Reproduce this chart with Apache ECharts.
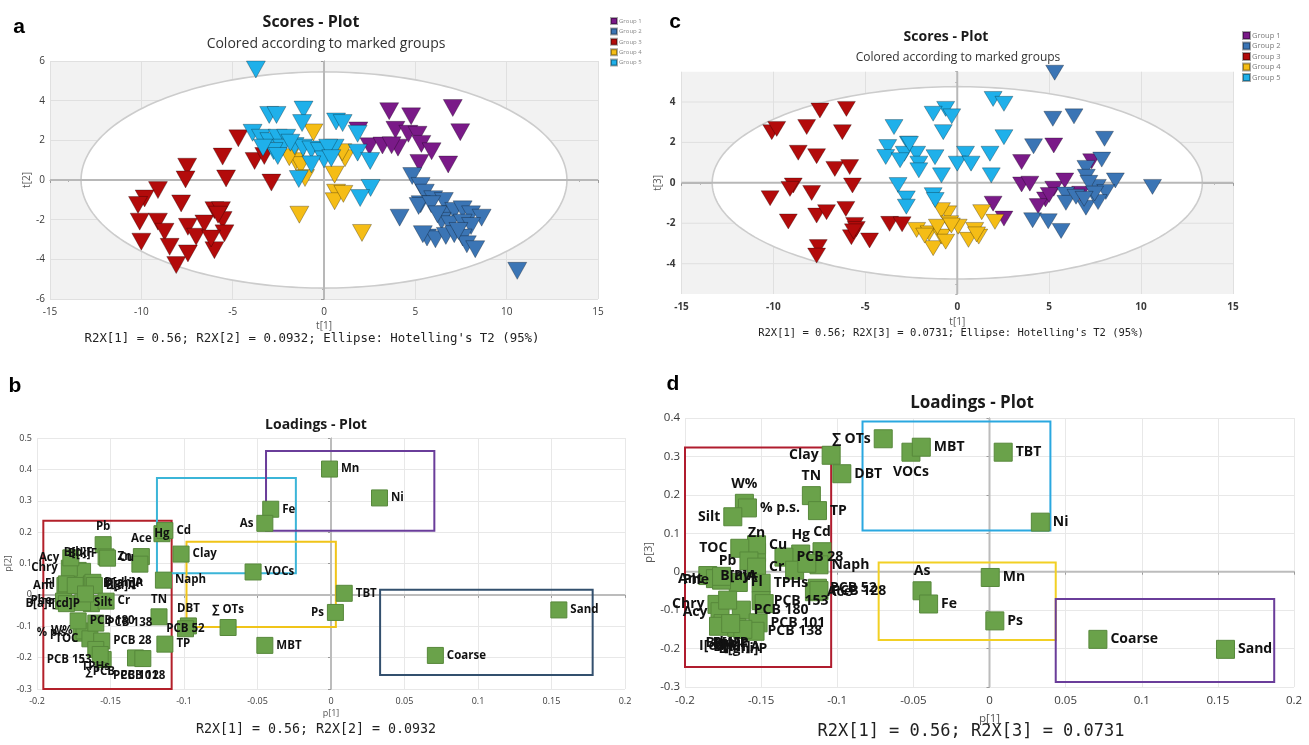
<!DOCTYPE html>
<html>
<head>
<meta charset="utf-8">
<script src="https://cdn.jsdelivr.net/npm/echarts/dist/echarts.min.js"></script>
<style>
html,body{margin:0;padding:0;background:#fff;}
#chart{width:1309px;height:745px;}
</style>
</head>
<body>
<div id="chart"></div>
<script>
// ---------------- DATA ----------------
const groupNames = ['Group 1','Group 2','Group 3','Group 4','Group 5'];

// Panel a : scores t[1] vs t[2]
const aGroup1 = [[3.57,3.47],[4.77,3.21],[7.05,3.63],[7.46,2.41],[1.88,2.50],[2.49,1.70],[3.20,1.74],[3.91,2.53],[4.05,1.63],[4.62,2.33],[5.12,2.28],[5.33,1.82],[5.89,1.45],[5.22,0.86],[6.80,0.78],[3.70,1.75]];
const aGroup2 = [[4.83,0.20],[5.29,-0.30],[5.52,-0.64],[5.98,-0.97],[6.56,-1.06],[5.29,-1.22],[4.14,-1.90],[5.18,-1.31],[5.87,-1.22],[6.67,-1.73],[7.13,-1.56],[7.59,-1.48],[8.05,-1.73],[8.63,-1.90],[6.44,-2.06],[6.90,-2.23],[7.59,-2.15],[8.05,-2.32],[5.64,-2.90],[6.10,-2.99],[6.67,-2.82],[7.13,-2.73],[7.59,-2.90],[7.82,-3.24],[8.28,-3.49],[5.41,-2.73],[7.36,-2.57],[10.58,-4.58],[6.21,-1.73]];
const aGroup3 = [[-4.69,2.10],[-5.55,1.18],[-5.36,0.08],[-7.49,0.67],[-7.58,0.03],[-9.09,-0.51],[-9.82,-0.93],[-10.18,-1.26],[-7.82,-1.18],[-10.09,-2.10],[-9.09,-2.10],[-8.73,-2.61],[-10.0,-3.11],[-8.45,-3.37],[-8.09,-4.29],[-7.45,-3.70],[-7.45,-2.36],[-7.0,-2.86],[-6.55,-2.19],[-6.0,-1.52],[-5.64,-1.52],[-5.55,-2.02],[-5.45,-2.69],[-6.0,-3.54],[-6.18,-2.95],[-3.80,0.96],[-3.27,1.21],[-2.88,-0.13],[-5.80,-1.75]];
const aGroup4 = [[-0.58,2.40],[-1.55,0.95],[-1.27,0.75],[-1.04,0.10],[-1.35,-1.75],[0.58,0.27],[0.66,-0.64],[0.58,-1.07],[1.06,-0.70],[1.15,1.10],[1.0,1.40],[2.08,-2.67],[-1.9,1.15]];
const aGroup5 = [[-3.73,5.57],[-3.0,3.28],[-2.6,3.28],[-1.12,3.55],[-1.2,2.87],[0.66,2.95],[1.02,2.87],[1.84,2.33],[-3.91,2.38],[-3.45,2.13],[-2.99,1.96],[-2.53,2.13],[-2.07,2.13],[-2.30,1.63],[-2.76,1.46],[-2.53,1.21],[-1.61,1.71],[-1.15,1.63],[-0.69,1.54],[-0.23,1.46],[0.58,1.63],[0.0,1.04],[-0.69,0.79],[1.84,1.38],[2.53,0.96],[-1.38,0.05],[2.55,-0.40],[1.98,-0.91],[-1.84,1.88],[-3.34,1.63],[0.23,1.63],[0.4,1.1]];
const aEllipse = [13.3, 5.45];   // Hotelling's T2 (95%) semi-axes

// Panel c : scores t[1] vs t[3]
const cGroup1 = [[3.50,1.03],[5.25,1.85],[3.50,-0.08],[3.95,-0.04],[5.25,-0.29],[5.85,0.12],[6.71,-0.54],[7.31,1.07],[4.80,-0.82],[4.40,-1.15],[1.95,-1.03],[2.54,-1.77],[5.0,-0.6]];
const cGroup2 = [[5.3,5.45],[5.20,3.17],[6.35,3.29],[8.01,2.18],[4.15,1.81],[7.86,1.15],[7.0,0.74],[7.02,0.30],[8.60,0.12],[7.62,-0.2],[7.16,0.0],[10.62,-0.20],[8.08,-0.45],[5.9,-0.58],[5.91,-0.99],[7.0,-1.23],[7.66,-0.95],[4.10,-1.85],[4.95,-1.90],[5.65,-2.38],[7.47,-0.53],[6.46,-0.69],[6.9,-0.79]];
const cGroup3 = [[-10.09,2.51],[-9.82,2.67],[-7.47,3.58],[-6.03,3.66],[-8.19,2.76],[-6.25,2.51],[-8.65,1.49],[-7.65,1.32],[-6.66,0.69],[-5.85,0.78],[-8.92,-0.13],[-9.1,-0.30],[-10.18,-0.76],[-7.92,-0.50],[-5.70,-0.13],[-7.65,-1.62],[-7.11,-1.45],[-6.06,-1.29],[-9.19,-1.91],[-5.58,-2.08],[-5.76,-2.69],[-4.77,-2.85],[-7.56,-3.18],[-7.65,-3.60],[-3.68,-2.03],[-5.49,-2.28],[-3.0,-2.05],[-5.65,-2.4]];
const cGroup4 = [[-2.21,-2.33],[-1.53,-2.50],[-1.31,-3.23],[-0.86,-2.66],[-0.63,-2.91],[-0.52,-1.51],[-0.86,-1.35],[0.05,-2.17],[0.61,-2.82],[0.95,-2.33],[1.33,-1.45],[2.05,-1.93],[1.17,-2.66],[-0.41,-2.0],[-1.08,-2.17],[-1.77,-2.61],[-0.32,-2.11],[1.05,-2.55]];
const cGroup5 = [[1.95,4.15],[2.54,3.91],[-0.63,3.66],[-1.31,3.42],[-0.30,3.29],[-0.76,2.51],[2.54,2.26],[-3.44,2.76],[-3.78,1.77],[-2.66,1.94],[-2.88,1.44],[-2.21,1.44],[-3.89,1.28],[-3.11,1.12],[-2.09,0.95],[-1.21,1.27],[0.45,1.44],[0.0,0.95],[0.75,0.95],[1.78,1.44],[-0.86,0.37],[1.85,0.37],[-3.22,-0.11],[-2.77,-0.77],[-2.77,-1.18],[-1.31,-0.61],[-1.2,-0.85],[-2.09,0.62],[-2.6,1.93]];
const cEllipse = [13.33, 4.76];
const cYTicks = [-4, -2, 0, 2, 4];

// Panel b : loadings p[1] vs p[2]  [name, p1, p2]
const bLoadings = [
 ['Mn',-0.001,0.401],['Ni',0.033,0.309],['Fe',-0.041,0.273],['As',-0.045,0.228],['Clay',-0.102,0.130],
 ['VOCs',-0.053,0.073],['Naph',-0.114,0.047],['TBT',0.009,0.005],['Ps',0.003,-0.056],['Sand',0.155,-0.048],
 ['Coarse',0.071,-0.193],['MBT',-0.045,-0.161],['∑ OTs',-0.070,-0.104],['DBT',-0.097,-0.099],['PCB 52',-0.099,-0.108],
 ['TN',-0.117,-0.070],['TP',-0.113,-0.157],['Hg',-0.115,0.195],['Cd',-0.113,0.205],
 ['Pb',-0.155,0.160],['Zn',-0.153,0.121],['Cu',-0.152,0.117],['Ace',-0.129,0.122],['Flt',-0.130,0.098],
 ['B[b]F',-0.172,0.078],['B[k]F',-0.169,0.075],['Chry',-0.178,0.085],['Acy',-0.177,0.118],
 ['Ant',-0.181,0.030],['Fl',-0.180,0.035],['B[ghi]P',-0.163,0.035],['D[ah]A',-0.162,0.040],['B[a]A',-0.161,0.030],
 ['Phe',-0.182,-0.020],['B[a]P',-0.180,-0.028],['Pyr',-0.174,0.030],['I[cd]P',-0.163,-0.028],['Silt',-0.169,-0.025],['Cr',-0.153,-0.020],
 ['% p.s.',-0.170,-0.122],['W%',-0.168,-0.115],['TOC',-0.164,-0.140],['PCB 180',-0.172,-0.083],['PCB 138',-0.160,-0.090],
 ['PCB 28',-0.156,-0.147],['PCB 153',-0.155,-0.206],['TPHs',-0.160,-0.174],['∑PCB',-0.157,-0.190],
 ['PCB 101',-0.133,-0.201],['PCB 128',-0.128,-0.203],['TOC2',-0.167,0.003]
];
// boxes [p1 min, p1 max, p2 min, p2 max]
const bBoxes = [[-0.1957,-0.1084,-0.300,0.236],[-0.1184,-0.0239,0.069,0.3725],[-0.0983,0.0033,-0.102,0.169],[-0.0442,0.0703,0.204,0.4586],[0.0334,0.178,-0.255,0.016]];

// Panel d : loadings p[1] vs p[3]
const dLoadings = [
 ['∑ OTs',-0.0698,0.346],['VOCs',-0.0516,0.311],['MBT',-0.0448,0.324],['TBT',0.009,0.311],['Ni',0.0334,0.129],
 ['Clay',-0.104,0.303],['DBT',-0.097,0.255],['TN',-0.117,0.198],['TP',-0.113,0.159],
 ['W%',-0.161,0.178],['% p.s.',-0.159,0.166],['Silt',-0.1686,0.143],['Zn',-0.153,0.050],['Cu',-0.153,0.070],
 ['TOC',-0.164,0.061],['Pb',-0.158,0.028],['Cr',-0.153,0.012],['Hg',-0.124,0.046],['Cd',-0.110,0.052],
 ['PCB 28',-0.135,0.038],['Naph',-0.112,0.018],['Fl',-0.165,-0.028],['TPHs',-0.150,-0.030],
 ['PCB 52',-0.113,-0.043],['Ace',-0.115,-0.052],['PCB 128',-0.112,-0.049],['PCB 153',-0.150,-0.075],
 ['PCB 180',-0.163,-0.100],['PCB 101',-0.152,-0.133],['PCB 138',-0.154,-0.155],['Chry',-0.179,-0.085],['Acy',-0.177,-0.104],
 ['B[a]A',-0.185,-0.010],['Ant',-0.180,-0.018],['Phe',-0.176,-0.022],['Pyr',-0.176,-0.012],
 ['B[b]F',-0.175,-0.135],['B[k]F',-0.170,-0.140],['D[ah]A',-0.166,-0.145],['I[cd]P',-0.178,-0.142],['B[ghi]P',-0.162,-0.150],['B[a]P',-0.170,-0.135],
 ['Flt',-0.172,-0.074],['PCB 118',-0.148,-0.083],['TPH2',-0.128,0.004],['PCB 28b',-0.120,0.022],
 ['As',-0.0443,-0.0496],['Fe',-0.040,-0.084],['Mn',0.0005,-0.015],['Ps',0.0035,-0.128],['Coarse',0.0712,-0.176],['Sand',0.155,-0.202]
];
const dBoxes = [[-0.2,-0.104,-0.248,0.323],[-0.0834,0.040,0.107,0.391],[-0.0728,0.0435,-0.178,0.024],[0.0435,0.187,-0.287,-0.0713]];

// ---------------- STYLE ----------------
const GROUP_COLORS = ['#7a1a88','#3b75b5','#b30b0b','#f5bd16','#1fb0ea'];
const BOX_COLORS_B = ['#b3202a','#3bb5d8','#f0c419','#6a3d9a','#33506e'];
const BOX_COLORS_D = ['#b01c2e','#2aa8e0','#f2d024','#6a3d9a'];
const SANS = '"Open Sans","Noto Sans",sans-serif';
const MONO = '"DejaVu Sans Mono","Liberation Mono",monospace';
// label placement: R right, L left, T top, B bottom, I inside, H hidden, or [pos,dx,dy]
const bLabelPos = {'As':'L','Ps':'L','∑ OTs':'T','DBT':'T','PCB 52':'I','TN':'T','Hg':'I','Pb':'T','Ace':'T',
  'B[b]F':'T','B[k]F':'T','Chry':'L','Acy':'L','Ant':'L','Fl':'L','Phe':'L','B[a]P':'L','I[cd]P':'L',
  '% p.s.':'L','W%':'L','TOC':'L','PCB 153':'L','TPHs':'B','∑PCB':'B','PCB 101':['bottom',0,-8],'PCB 128':['bottom',12,6],
  'Flt':'H','TOC2':'H','Pyr':'H'};
const dLabelPos = {'∑ OTs':'L','VOCs':'B','Clay':'L','TN':'T','W%':'T','Silt':'L','Zn':'T','TOC':'L','Pb':'L','Hg':'T','Cd':'T',
  'Chry':'L','Acy':'L','Ant':'L','Phe':'L','B[b]F':'B','B[k]F':'B','D[ah]A':'B','I[cd]P':'B','B[ghi]P':'B','B[a]P':'B','As':'T',
  'Flt':'H','PCB 118':'H','TPH2':'H','PCB 28b':'H'};

function labelCfg(spec){
  const map = {R:'right',L:'left',T:'top',B:'bottom',I:'inside'};
  if (spec === 'H') return {show:false};
  if (Array.isArray(spec)) return {position:spec[0], offset:[spec[1],spec[2]]};
  return {position: map[spec || 'R']};
}

function ellipseRender(extraTicks){
  return function(params, api){
    const a = api.value(0), b = api.value(1);
    const cs = params.coordSys;
    const children = [];
    (extraTicks||[]).forEach(v => {
      const p = api.coord([0, v]);
      children.push({type:'line', shape:{x1:cs.x, y1:p[1], x2:cs.x+cs.width, y2:p[1]}, style:{stroke:'#e0e0e0', lineWidth:1}});
    });
    const pts = [];
    for (let i = 0; i < 240; i++) {
      const t = i/240*2*Math.PI;
      pts.push(api.coord([a*Math.cos(t), b*Math.sin(t)]));
    }
    children.push({type:'polygon', shape:{points:pts}, style:{fill:'#ffffff', stroke:'#cccccc', lineWidth:1.6}});
    const o = api.coord([0,0]);
    children.push({type:'line', shape:{x1:cs.x, y1:o[1], x2:cs.x+cs.width, y2:o[1]}, style:{stroke:'#b8b8b8', lineWidth:2}});
    children.push({type:'line', shape:{x1:o[0], y1:cs.y, x2:o[0], y2:cs.y+cs.height}, style:{stroke:'#b8b8b8', lineWidth:2}});
    return {type:'group', children};
  };
}
function zeroRender(params, api){
  const cs = params.coordSys;
  const o = api.coord([0,0]);
  return {type:'group', children:[
    {type:'line', shape:{x1:cs.x, y1:o[1], x2:cs.x+cs.width, y2:o[1]}, style:{stroke:'#bcbcbc', lineWidth:2}},
    {type:'line', shape:{x1:o[0], y1:cs.y, x2:o[0], y2:cs.y+cs.height}, style:{stroke:'#bcbcbc', lineWidth:2}}
  ]};
}
function boxRender(colors){
  return function(params, api){
    const p1 = api.coord([api.value(0), api.value(3)]);
    const p2 = api.coord([api.value(1), api.value(2)]);
    return {type:'rect', shape:{x:p1[0], y:p1[1], width:p2[0]-p1[0], height:p2[1]-p1[1]},
      style:{fill:'none', stroke:colors[params.dataIndex], lineWidth:2}};
  };
}

function axisCommon(fs, margin, bold){
  return {
    axisLine:{show:true, lineStyle:{color:'#9a9a9a', width:1}},
    axisTick:{show:true, length:3, lineStyle:{color:'#9a9a9a'}},
    axisLabel:{fontSize:fs, color:'#3a3a3a', fontFamily:SANS, margin:margin||5, fontWeight:bold?'bold':'normal'},
    nameTextStyle:{fontSize:fs, color:'#555', fontFamily:SANS},
    nameLocation:'middle'
  };
}

const scoresA = [aGroup1,aGroup2,aGroup3,aGroup4,aGroup5];
const scoresC = [cGroup1,cGroup2,cGroup3,cGroup4,cGroup5];

const series = [];
series.push({type:'custom', xAxisIndex:0, yAxisIndex:0, data:[aEllipse], renderItem:ellipseRender(), z:1, silent:true});
scoresA.forEach((d,i) => series.push({
  type:'scatter', name:groupNames[i], xAxisIndex:0, yAxisIndex:0, data:d,
  symbol:'triangle', symbolRotate:180, symbolSize:[19,17], z:3,
  itemStyle:{color:GROUP_COLORS[i], borderColor:'rgba(0,0,0,0.35)', borderWidth:0.8, opacity:1}
}));
series.push({type:'custom', xAxisIndex:1, yAxisIndex:1, data:[cEllipse], renderItem:ellipseRender(cYTicks), z:1, silent:true});
scoresC.forEach((d,i) => series.push({
  type:'scatter', name:groupNames[i], xAxisIndex:1, yAxisIndex:1, data:d,
  symbol:'triangle', symbolRotate:180, symbolSize:[18,15], z:3,
  itemStyle:{color:GROUP_COLORS[i], borderColor:'rgba(0,0,0,0.35)', borderWidth:0.8, opacity:1}
}));
// panel b
series.push({type:'custom', xAxisIndex:2, yAxisIndex:2, data:[[0,0]], renderItem:zeroRender, z:1, silent:true});
series.push({type:'custom', xAxisIndex:2, yAxisIndex:2, data:bBoxes, renderItem:boxRender(BOX_COLORS_B), z:2, silent:true});
series.push({type:'scatter', name:'Loadings b', xAxisIndex:2, yAxisIndex:2, symbol:'rect', symbolSize:16, z:3,
  itemStyle:{color:'#6aa24a', borderColor:'#57883b', borderWidth:1, opacity:1},
  label:{show:true, formatter:'{b}', fontSize:11.5, fontWeight:'bold', color:'#111', fontFamily:SANS, distance:3},
  labelLayout:{hideOverlap:false},
  data:bLoadings.map(([n,x,y]) => ({name:n, value:[x,y], label:labelCfg(bLabelPos[n])}))
});
// panel d
series.push({type:'custom', xAxisIndex:3, yAxisIndex:3, data:[[0,0]], renderItem:zeroRender, z:1, silent:true});
series.push({type:'custom', xAxisIndex:3, yAxisIndex:3, data:dBoxes, renderItem:boxRender(BOX_COLORS_D), z:2, silent:true});
series.push({type:'scatter', name:'Loadings d', xAxisIndex:3, yAxisIndex:3, symbol:'rect', symbolSize:18, z:3,
  itemStyle:{color:'#6aa24a', borderColor:'#57883b', borderWidth:1, opacity:1},
  label:{show:true, formatter:'{b}', fontSize:14, fontWeight:'bold', color:'#111', fontFamily:SANS, distance:3},
  data:dLoadings.map(([n,x,y]) => ({name:n, value:[x,y], label:labelCfg(dLabelPos[n])}))
});

function txt(x,y,text,font,extra){
  return Object.assign({type:'text', x:x, y:y, silent:true,
    style:Object.assign({text:text, textAlign:'center', textVerticalAlign:'middle', fill:'#222'}, font)}, extra||{});
}

const option = {
  animation:false,
  backgroundColor:'#ffffff',
  grid:[
    {left:50, top:61, width:548, height:238, show:true, backgroundColor:'#f2f2f2', borderWidth:0},
    {left:681.5, top:71.7, width:551.5, height:222.3, show:true, backgroundColor:'#f2f2f2', borderWidth:0},
    {left:37, top:438, width:588, height:251},
    {left:685, top:418, width:609, height:269}
  ],
  xAxis:[
    Object.assign(axisCommon(10, 8), {gridIndex:0, type:'value', min:-15, max:15, interval:5, name:'t[1]', nameGap:22,
      minorTick:{show:true, splitNumber:5, length:2, lineStyle:{color:'#b0b0b0'}},
      splitLine:{show:true, lineStyle:{color:'#e0e0e0'}}}),
    Object.assign(axisCommon(10, 8, true), {gridIndex:1, type:'value', min:-15, max:15, interval:5, name:'t[1]', nameGap:23,
      minorTick:{show:true, splitNumber:5, length:2, lineStyle:{color:'#b0b0b0'}},
      splitLine:{show:true, lineStyle:{color:'#e0e0e0'}}}),
    Object.assign(axisCommon(9, 8), {gridIndex:2, type:'value', min:-0.2, max:0.2, interval:0.05, name:'p[1]', nameGap:20,
      splitLine:{show:true, lineStyle:{color:'#e8e8e8'}}}),
    Object.assign(axisCommon(11.5, 8), {gridIndex:3, type:'value', min:-0.2, max:0.2, interval:0.05, name:'p[1]', nameGap:26,
      splitLine:{show:true, lineStyle:{color:'#e8e8e8'}}})
  ],
  yAxis:[
    Object.assign(axisCommon(10), {gridIndex:0, type:'value', min:-6, max:6, interval:2, name:'t[2]', nameGap:18,
      minorTick:{show:true, splitNumber:4, length:2, lineStyle:{color:'#b0b0b0'}},
      splitLine:{show:true, lineStyle:{color:'#e0e0e0'}}}),
    Object.assign(axisCommon(10), {gridIndex:1, type:'value', min:-5.5, max:5.5, interval:0.5, name:'t[3]', nameGap:16,
      axisTick:{show:true, length:2, lineStyle:{color:'#b0b0b0'}},
      axisLabel:{fontSize:10, color:'#3a3a3a', fontFamily:SANS, margin:6, fontWeight:'bold',
        formatter:v => (cYTicks.indexOf(Math.round(v*100)/100) >= 0 ? String(Math.round(v)) : '')},
      splitLine:{show:false}}),
    Object.assign(axisCommon(9), {gridIndex:2, type:'value', min:-0.3, max:0.5, interval:0.1, name:'p[2]', nameGap:22,
      splitLine:{show:true, lineStyle:{color:'#e8e8e8'}}}),
    Object.assign(axisCommon(11.5), {gridIndex:3, type:'value', min:-0.3, max:0.4, interval:0.1, name:'p[3]', nameGap:30,
      splitLine:{show:true, lineStyle:{color:'#e8e8e8'}}})
  ],
  legend:[
    {left:605, top:12, orient:'vertical', icon:'rect', itemWidth:6, itemHeight:6, itemGap:2.4, selectedMode:false,
      data:groupNames, textStyle:{fontSize:6, color:'#8a8a8a', fontFamily:SANS, padding:[0,0,0,-3]}},
    {left:1237, top:26, orient:'vertical', icon:'rect', itemWidth:7, itemHeight:7, itemGap:1.5, selectedMode:false,
      data:groupNames, textStyle:{fontSize:7.5, color:'#7a7a7a', fontFamily:SANS, padding:[0,0,0,-3]}}
  ],
  graphic:[
    txt(19,27,'a',{font:'bold 21px "Liberation Sans", Arial, sans-serif', fill:'#000'}),
    txt(675,22,'c',{font:'bold 21px "Liberation Sans", Arial, sans-serif', fill:'#000'}),
    txt(15,386,'b',{font:'bold 21px "Liberation Sans", Arial, sans-serif', fill:'#000'}),
    txt(673,384,'d',{font:'bold 21px "Liberation Sans", Arial, sans-serif', fill:'#000'}),
    txt(311,22,'Scores - Plot',{font:'bold 16px '+SANS, fill:'#1a1a1a'}),
    txt(326,44,'Colored according to marked groups',{font:'14px '+SANS, fill:'#333'}),
    txt(946,37,'Scores - Plot',{font:'bold 14px '+SANS, fill:'#1a1a1a'}),
    txt(958,58,'Colored according to marked groups',{font:'12px '+SANS, fill:'#333'}),
    txt(316,425,'Loadings - Plot',{font:'bold 14px '+SANS, fill:'#1a1a1a'}),
    txt(972,403,'Loadings - Plot',{font:'bold 17px '+SANS, fill:'#1a1a1a'}),
    txt(312,339,"R2X[1] = 0.56; R2X[2] = 0.0932; Ellipse: Hotelling's T2 (95%)",{font:'12.4px '+MONO, fill:'#222'}),
    txt(951,333,"R2X[1] = 0.56; R2X[3] = 0.0731; Ellipse: Hotelling's T2 (95%)",{font:'10.5px '+MONO, fill:'#222'}),
    txt(316,730,'R2X[1] = 0.56; R2X[2] = 0.0932',{font:'13.3px '+MONO, fill:'#222'}),
    txt(971,732,'R2X[1] = 0.56; R2X[3] = 0.0731',{font:'17px '+MONO, fill:'#222'})
  ],
  series:series
};

const chart = echarts.init(document.getElementById('chart'), null, {renderer:'canvas'});
chart.setOption(option);
</script>
</body>
</html>
